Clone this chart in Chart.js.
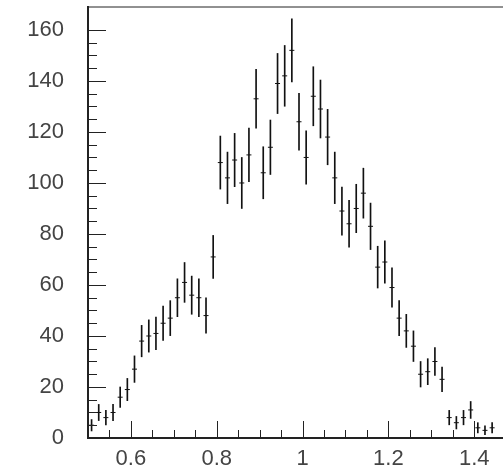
<!DOCTYPE html>
<html>
<head>
<meta charset="utf-8">
<script src="https://cdn.jsdelivr.net/npm/chart.js@4"></script>
<style>
  html, body { margin: 0; padding: 0; background: #fff; }
  #wrap { width: 503px; height: 469px; }
</style>
</head>
<body>
<div id="wrap"><canvas id="histChart" width="503" height="469"></canvas></div>
<script>
// Histogram, bins of width 1/60 starting at 0.5
const binStart = 0.5;
const binWidth = 1 / 60;
const counts = [
  5, 10, 8, 10, 16, 19, 27, 38, 40, 41, 45, 47, 55, 61, 56, 55, 48, 71,
  108, 102, 109, 100, 111,
  133, 104, 114, 139, 142, 152, 124, 110, 134, 129, 118, 102,
  89, 84, 90, 96, 83, 67, 69, 59, 47, 42, 36, 25, 26, 30, 23,
  8, 6, 8, 11, 4, 3, 4
];
const xTickLabels = [0.6, 0.8, 1, 1.2, 1.4];
const yTickLabels = [0, 20, 40, 60, 80, 100, 120, 140, 160];

const centers = counts.map((c, i) => binStart + (i + 0.5) * binWidth);
const errors = counts.map(c => Math.sqrt(c));

const isLabel = (list, v) => list.some(l => Math.abs(l - v) < 1e-6);

// inward ticks (major + minor) and the top frame line
const frameTicks = {
  id: 'frameTicks',
  afterDraw(chart) {
    const { ctx, chartArea: a, scales: { x, y } } = chart;
    ctx.save();
    ctx.strokeStyle = '#222';
    ctx.lineWidth = 1;
    ctx.beginPath();
    ctx.moveTo(a.left, a.top);
    ctx.lineTo(a.right, a.top);
    y.ticks.forEach(t => {
      if (Math.abs(t.value / 5 - Math.round(t.value / 5)) > 1e-6) return;
      const py = Math.round(y.getPixelForValue(t.value)) + 0.5;
      const len = isLabel(yTickLabels, t.value) ? 18 : 9;
      ctx.moveTo(a.left, py);
      ctx.lineTo(a.left + len, py);
    });
    x.ticks.forEach(t => {
      if (Math.abs(t.value / 0.05 - Math.round(t.value / 0.05)) > 1e-6) return;
      const px = Math.round(x.getPixelForValue(t.value)) + 0.5;
      const len = isLabel(xTickLabels, t.value) ? 17 : 8;
      ctx.moveTo(px, a.bottom);
      ctx.lineTo(px, a.bottom - len);
    });
    ctx.stroke();
    ctx.restore();
  }
};

const noOverflow = s => {
  s.paddingTop = 0;
  s.paddingBottom = 0;
  s.paddingLeft = 0;
  s.paddingRight = 0;
};

const ctx = document.getElementById('histChart').getContext('2d');

new Chart(ctx, {
  type: 'scatter',
  data: {
    datasets: [
      {
        type: 'bar',
        label: 'errors',
        data: centers.map((c, i) => ({ x: c, y: [counts[i] - errors[i], counts[i] + errors[i]] })),
        backgroundColor: '#111',
        borderWidth: 0,
        barThickness: 1
      },
      {
        type: 'scatter',
        label: 'counts',
        data: centers.map((c, i) => ({ x: c, y: counts[i] })),
        pointStyle: 'line',
        radius: 2.5,
        borderColor: '#111',
        borderWidth: 1
      }
    ]
  },
  options: {
    responsive: false,
    animation: false,
    events: [],
    layout: { autoPadding: false, padding: { top: 7, left: 0, right: 0, bottom: 0 } },
    plugins: {
      legend: { display: false },
      tooltip: { enabled: false }
    },
    scales: {
      x: {
        type: 'linear',
        min: 0.5,
        max: 1.467,
        offset: false,
        grid: { display: false, drawTicks: false, offset: false },
        border: { display: true, color: '#222', width: 2 },
        afterFit: s => { s.height = 31; noOverflow(s); },
        ticks: {
          stepSize: 0.05,
          autoSkip: false,
          maxRotation: 0,
          padding: 8,
          color: '#444',
          font: { family: 'Liberation Sans', size: 22 },
          callback: v => isLabel(xTickLabels, v) ? String(+v.toFixed(2)) : ''
        }
      },
      y: {
        min: 0,
        max: 169,
        grid: { display: false, drawTicks: false },
        border: { display: true, color: '#222', width: 2 },
        afterFit: s => { s.width = 88; noOverflow(s); },
        ticks: {
          stepSize: 5,
          autoSkip: false,
          padding: 24,
          color: '#444',
          font: { family: 'Liberation Sans', size: 22 },
          callback: v => isLabel(yTickLabels, v) ? String(v) : ''
        }
      }
    }
  },
  plugins: [frameTicks]
});
</script>
</body>
</html>
